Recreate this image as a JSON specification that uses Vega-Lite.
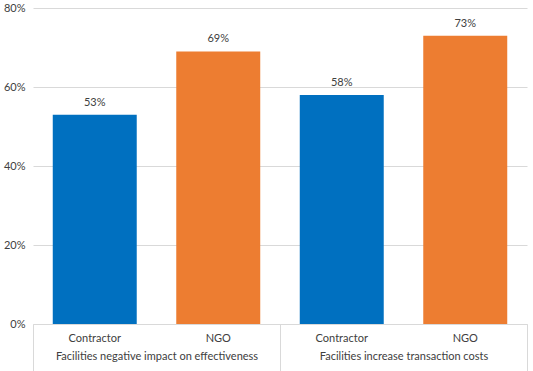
{
  "$schema": "https://vega.github.io/schema/vega-lite/v6.json",
  "width": 494,
  "height": 316,
  "autosize": "none",
  "padding": {"left": 33, "top": 8, "right": 6, "bottom": 47},
  "background": "white",
  "config": {
    "view": {"stroke": null},
    "font": "Lato",
    "axis": {"labelFont": "Lato", "labelFontSize": 11, "labelColor": "#404040"}
  },
  "data": {
    "values": [
      {"bar": "g1|Contractor", "group": "Facilities negative impact on effectiveness", "org": "Contractor", "value": 0.53},
      {"bar": "g1|NGO", "group": "Facilities negative impact on effectiveness", "org": "NGO", "value": 0.69},
      {"bar": "g2|Contractor", "group": "Facilities increase transaction costs", "org": "Contractor", "value": 0.58},
      {"bar": "g2|NGO", "group": "Facilities increase transaction costs", "org": "NGO", "value": 0.73}
    ]
  },
  "layer": [
    {
      "encoding": {
        "x": {
          "field": "bar", "type": "nominal", "sort": null,
          "scale": {"paddingInner": 0.32, "paddingOuter": 0.16},
          "axis": {
            "orient": "bottom",
            "title": null, "labelAngle": 0, "ticks": false, "tickSize": 0,
            "labelPadding": 8, "domainColor": "#d9d9d9", "domainWidth": 1,
            "labelExpr": "split(datum.label, '|')[1]"
          }
        },
        "y": {
          "field": "value", "type": "quantitative",
          "scale": {"domain": [0, 0.8]},
          "axis": {
            "title": null, "format": ".0%", "values": [0, 0.2, 0.4, 0.6, 0.8],
            "domain": false, "ticks": false, "labelPadding": 8,
            "gridColor": "#d9d9d9", "gridWidth": 1
          }
        }
      },
      "layer": [
        {
          "mark": {"type": "bar"},
          "encoding": {
            "color": {
              "field": "org", "type": "nominal",
              "scale": {"domain": ["Contractor", "NGO"], "range": ["#0070C0", "#ED7D31"]},
              "legend": null
            }
          }
        },
        {
          "mark": {"type": "text", "baseline": "bottom", "dy": -7, "fontSize": 11, "color": "#404040", "font": "Lato"},
          "encoding": {
            "text": {"field": "value", "type": "quantitative", "format": ".0%"}
          }
        }
      ]
    },
    {
      "mark": {"type": "text", "opacity": 0},
      "encoding": {
        "x": {
          "field": "group", "type": "nominal", "sort": null,
          "scale": {"paddingInner": 0, "paddingOuter": 0},
          "axis": {
            "orient": "bottom",
            "title": null, "labelAngle": 0, "domain": false, "labelLimit": 0,
            "tickBand": "extent", "tickSize": 47, "tickColor": "#d9d9d9",
            "labelPadding": -21
          }
        },
        "text": {"value": ""}
      }
    }
  ],
  "resolve": {"scale": {"x": "independent"}}
}
